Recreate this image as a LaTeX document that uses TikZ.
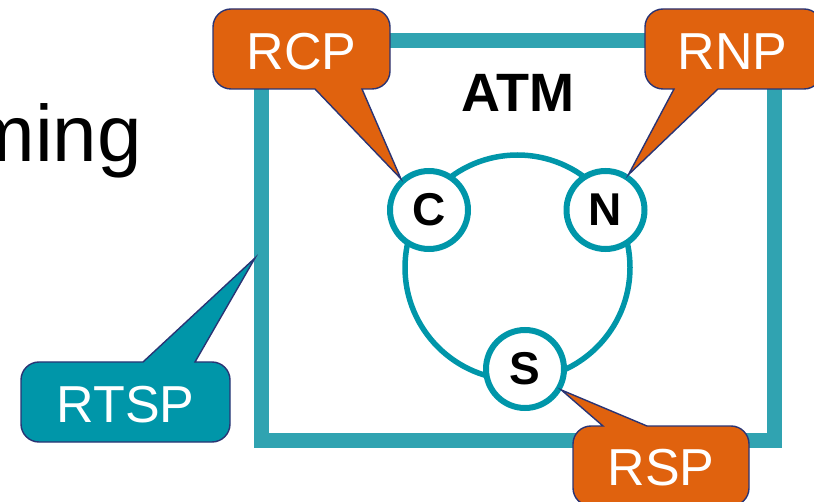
\documentclass[tikz,border=0pt]{standalone}
\usepackage{fontspec}
\setmainfont{Liberation Sans}
\definecolor{orangec}{HTML}{E0620E}
\definecolor{navyc}{HTML}{2A3474}
\definecolor{tealc}{HTML}{0096A9}
\definecolor{framec}{HTML}{30A3B1}
\begin{document}
\begin{tikzpicture}[x=1pt,y=1pt,
  framebox/.style={draw=framec,line width=15pt,rectangle,minimum width=513pt,minimum height=399pt,inner sep=0pt,outer sep=0pt},
  bigring/.style={draw=tealc,line width=5.5pt,circle,minimum size=225pt,inner sep=0pt},
  station/.style={draw=tealc,fill=white,line width=6pt,circle,minimum size=78pt,inner sep=0pt,font=\fontsize{46}{50}\selectfont\bfseries},
  orangecall/.style={fill=orangec,draw=navyc,line width=1.4pt,line join=miter},
  tealcall/.style={fill=tealc,draw=navyc,line width=1.4pt,line join=miter},
  calltext/.style={text=white,inner sep=0pt,anchor=base,font=\fontsize{52}{56}\selectfont}
]
\useasboundingbox (0,0) rectangle (814,501);
% background text
\node[anchor=base east,inner sep=0pt,font=\fontsize{80}{90}\selectfont] (ming) at (142,339) {ming};
% frame and ring
\node[framebox] (frame) at (517.5,260.5) {};
\node[bigring] (ring) at (517.5,233.5) {};
\node[anchor=base,inner sep=0pt,font=\fontsize{54}{60}\selectfont\bfseries] (atm) at (517.5,389) {ATM};
\node[station] (C) at (429,291) {C};
\node[station] (N) at (605.5,291) {N};
\node[station] (S) at (525,132) {S};
\coordinate (rtsptip) at (255,243);
% RCP callout
\draw[orangecall] (231,412) -- (315,412) -- (C.132) -- (362,412) -- (372,412)
  arc[start angle=270,end angle=360,radius=18] -- (390,474)
  arc[start angle=0,end angle=90,radius=18] -- (231,492)
  arc[start angle=90,end angle=180,radius=18] -- (213,430)
  arc[start angle=180,end angle=270,radius=18] -- cycle;
\node[calltext] (rcp) at (301.5,431) {RCP};
% RNP callout
\draw[orangecall] (663,412) -- (674,412) -- (N.57) -- (718,412) -- (804,412)
  arc[start angle=270,end angle=360,radius=18] -- (822,474)
  arc[start angle=0,end angle=90,radius=18] -- (663,492)
  arc[start angle=90,end angle=180,radius=18] -- (645,430)
  arc[start angle=180,end angle=270,radius=18] -- cycle;
\node[calltext] (rnp) at (732.5,431) {RNP};
% RTSP callout
\draw[tealcall] (39,59) -- (212,59)
  arc[start angle=270,end angle=360,radius=18] -- (230,121)
  arc[start angle=0,end angle=90,radius=18] -- (195,139) -- (rtsptip) -- (143,139) -- (39,139)
  arc[start angle=90,end angle=180,radius=18] -- (21,77)
  arc[start angle=180,end angle=270,radius=18] -- cycle;
\node[calltext] (rtsp) at (125.5,78) {RTSP};
% RSP callout
\draw[orangecall] (591,-5) -- (731,-5)
  arc[start angle=270,end angle=360,radius=18] -- (749,57)
  arc[start angle=0,end angle=90,radius=18] -- (647,75) -- (S.-30) -- (603,75) -- (591,75)
  arc[start angle=90,end angle=180,radius=18] -- (573,13)
  arc[start angle=180,end angle=270,radius=18] -- cycle;
\node[calltext] (rsp) at (661,16) {RSP};
\end{tikzpicture}
\end{document}
